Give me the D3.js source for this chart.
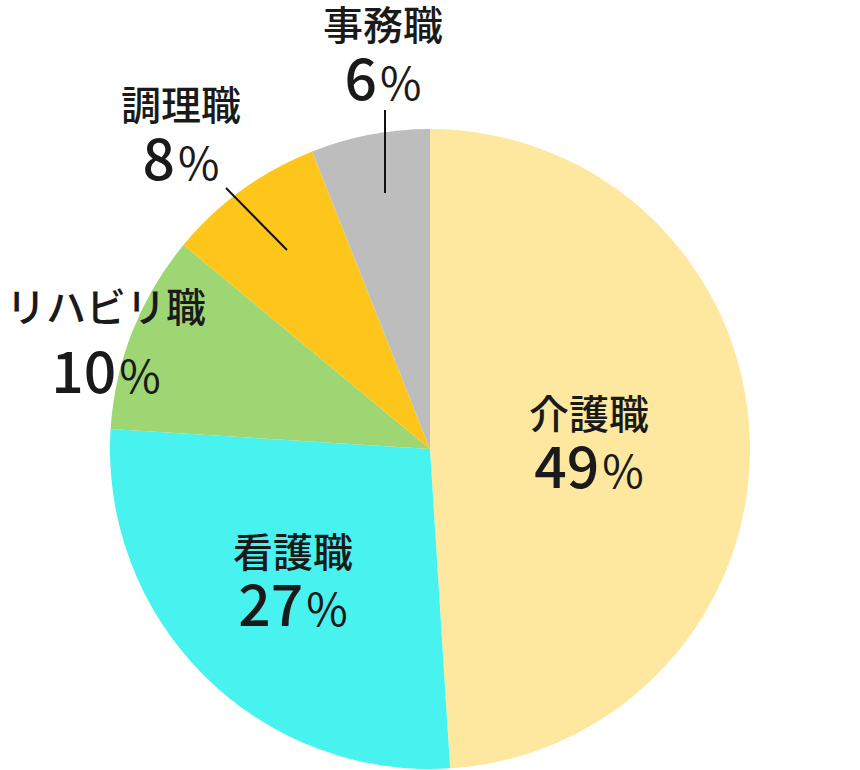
<!DOCTYPE html>
<html>
<head>
<meta charset="utf-8">
<script src="https://cdn.jsdelivr.net/npm/d3@7"></script>
<style>
  body { margin: 0; background: #fff; }
  text { font-family: "Noto Sans CJK JP", "Noto Sans", sans-serif; font-weight: 500; fill: #1a1a1a; }
</style>
</head>
<body>
<div id="chart"></div>
<script>
var width = 860,
	height = 770;

// Data
var categories = ["介護職", "看護職", "リハビリ職", "調理職", "事務職"];
var values = [49, 27, 10, 8, 6];
var colors = ["#FEE8A0", "#48F2EE", "#9DD672", "#FEC61B", "#BDBDBD"];

// label positions (centre x, name baseline, value baseline)
var labelPos = [
	[589, 429, 488],
	[293, 567, 626],
	[106, 322, 393],
	[181, 120, 180],
	[383, 40, 100]
];
// leader lines for the outside labels
var leaders = [
	null, null, null,
	[[226, 188], [287, 250]],
	[[385, 110], [385, 193]]
];

var svg = d3.select("#chart")
	.append("svg")
	.attr("width", width)
	.attr("height", height);

var cx = 430, cy = 449, radius = 320;

var pie = d3.pie()
	.sort(null)
	.value(function(d){ return d; });
var arc = d3.arc()
	.innerRadius(0)
	.outerRadius(radius);

var arcs = pie(values);

var g = svg.append("g")
	.attr("transform", "translate(" + cx + "," + cy + ")");

g.selectAll(".slice")
	.data(arcs)
	.enter()
	.append("path")
	.attr("class", "slice")
	.attr("d", arc)
	.attr("fill", function(d, i){ return colors[i]; });

// leader lines
svg.selectAll(".leader")
	.data(leaders.filter(function(d){ return d; }))
	.enter()
	.append("line")
	.attr("class", "leader")
	.attr("x1", function(d){ return d[0][0]; })
	.attr("y1", function(d){ return d[0][1]; })
	.attr("x2", function(d){ return d[1][0]; })
	.attr("y2", function(d){ return d[1][1]; })
	.attr("stroke", "#111")
	.attr("stroke-width", 2);

// labels
var labels = svg.selectAll(".label")
	.data(categories)
	.enter()
	.append("g")
	.attr("class", "label");

labels.append("text")
	.attr("x", function(d, i){ return labelPos[i][0]; })
	.attr("y", function(d, i){ return labelPos[i][1]; })
	.attr("text-anchor", "middle")
	.style("font-size", "40px")
	.text(function(d){ return d; });

var pct = labels.append("text")
	.attr("x", function(d, i){ return labelPos[i][0]; })
	.attr("y", function(d, i){ return labelPos[i][2]; })
	.attr("text-anchor", "middle");
pct.append("tspan")
	.style("font-size", "57px")
	.text(function(d, i){ return values[i]; });
pct.append("tspan")
	.attr("dx", 3)
	.style("font-size", "45px")
	.style("font-weight", 400)
	.text("%");
</script>
</body>
</html>
